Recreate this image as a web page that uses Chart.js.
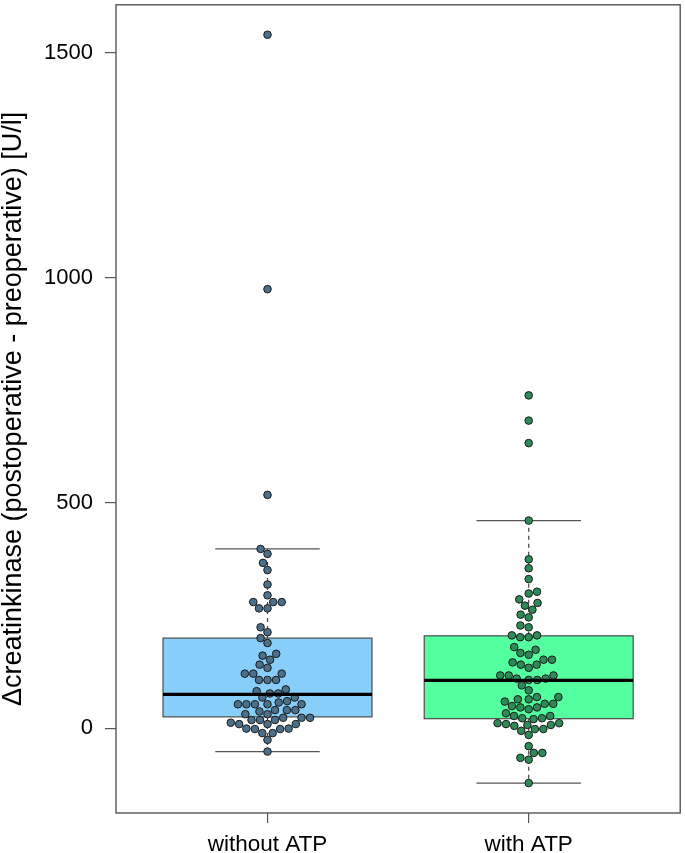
<!DOCTYPE html>
<html>
<head>
<meta charset="utf-8">
<script src="https://cdn.jsdelivr.net/npm/chart.js@4.4.1/dist/chart.umd.min.js"></script>
<style>
  html, body { margin: 0; padding: 0; background: #ffffff; }
  #wrap { width: 685px; height: 853px; }
</style>
</head>
<body>
<div id="wrap"><canvas id="c" width="685" height="853"></canvas></div>
<script>
// ---- data ----
const categories = ['without ATP', 'with ATP'];
const withoutATP = [1540, 975, 518, 398, 387, 367, 351, 319, 295, 280, 280, 280, 266, 266, 224, 213, 200, 189,
  165, 161, 152, 141, 134, 121, 121, 121, 107, 107, 107, 86, 82, 77, 77, 68, 68, 60, 57, 53, 53, 53, 53, 53,
  40, 40, 40, 37, 31, 31, 23, 23, 23, 18, 18, 18, 12, 9, 9, 9, -1, -1, -2, -2, -11, -11, -26, -52];
const withATP = [739, 683, 633, 461, 375, 355, 331, 303, 299, 286, 278, 272, 263, 252, 246, 228, 224,
  206, 206, 202, 202, 180, 174, 167, 163, 152, 152, 146, 141, 141, 134, 117, 117, 117, 110, 110, 107, 107,
  95, 84, 69, 69, 64, 64, 59, 54, 54, 49, 46, 46, 42, 33, 27, 27, 22, 22, 20, 11, 11, 9, 7, 7, 5,
  -2, -2, -6, -15, -40, -55, -55, -66, -70, -122];
// box statistics per category
const q1 = [25, 21];
const median = [75, 106];
const q3 = [200, 205];
const whiskerLow = [-52, -122];
const whiskerHigh = [398, 461];
const yTicks = [0, 500, 1000, 1500];

// ---- styling ----
const boxFill = ['#87CEFA', '#54FF9F'];
const pointFill = ['#4A708B', '#2E8B57'];
const frameColor = '#555555';
const FONT = "'Liberation Sans', Arial, sans-serif";

const allVals = withoutATP.concat(withATP, whiskerLow, whiskerHigh);
const dmin = Math.min(...allVals), dmax = Math.max(...allVals);
const ext = (dmax - dmin) * 0.04;

const groups = [withoutATP, withATP];

const boxPlugin = {
  id: 'boxes',
  beforeDatasetsDraw(chart) {
    const ctx = chart.ctx, xs = chart.scales.x, ys = chart.scales.y;
    ctx.save();
    for (let i = 0; i < categories.length; i++) {
      const c = i + 1;
      const xl = xs.getPixelForValue(c - 0.4), xr = xs.getPixelForValue(c + 0.4);
      const cl = xs.getPixelForValue(c - 0.2), cr = xs.getPixelForValue(c + 0.2);
      const xc = xs.getPixelForValue(c);
      const pq1 = ys.getPixelForValue(q1[i]), pq3 = ys.getPixelForValue(q3[i]);
      const plo = ys.getPixelForValue(whiskerLow[i]), phi = ys.getPixelForValue(whiskerHigh[i]);
      // dashed whiskers
      ctx.strokeStyle = '#444444';
      ctx.lineWidth = 1.2;
      ctx.setLineDash([4, 4]);
      ctx.beginPath();
      ctx.moveTo(xc, pq3); ctx.lineTo(xc, phi);
      ctx.moveTo(xc, pq1); ctx.lineTo(xc, plo);
      ctx.stroke();
      ctx.setLineDash([]);
      // caps
      ctx.strokeStyle = '#555555';
      ctx.beginPath();
      ctx.moveTo(cl, phi); ctx.lineTo(cr, phi);
      ctx.moveTo(cl, plo); ctx.lineTo(cr, plo);
      ctx.stroke();
      // box
      ctx.fillStyle = boxFill[i];
      ctx.fillRect(xl, pq3, xr - xl, pq1 - pq3);
      ctx.strokeStyle = '#4d4d4d';
      ctx.lineWidth = 1.2;
      ctx.strokeRect(xl, pq3, xr - xl, pq1 - pq3);
    }
    ctx.restore();
  },
  afterDatasetsDraw(chart) {
    const ctx = chart.ctx, xs = chart.scales.x, ys = chart.scales.y;
    ctx.save();
    for (let i = 0; i < categories.length; i++) {
      const c = i + 1;
      const xl = xs.getPixelForValue(c - 0.4), xr = xs.getPixelForValue(c + 0.4);
      const pm = ys.getPixelForValue(median[i]);
      ctx.strokeStyle = '#000000';
      ctx.lineWidth = 3.2;
      ctx.beginPath();
      ctx.moveTo(xl, pm); ctx.lineTo(xr, pm);
      ctx.stroke();
    }
    // frame
    const a = chart.chartArea;
    ctx.strokeStyle = frameColor;
    ctx.lineWidth = 1.4;
    ctx.strokeRect(a.left, a.top, a.right - a.left, a.bottom - a.top);
    ctx.restore();
  }
};

const datasets = groups.map((vals, i) => ({
  label: categories[i],
  data: vals.map(v => ({ x: i + 1, y: v })),
  backgroundColor: pointFill[i],
  borderColor: '#1a1a1a',
  borderWidth: 1,
  pointRadius: 3.8,
  pointHoverRadius: 3.8
}));

const chart = new Chart(document.getElementById('c'), {
  type: 'scatter',
  data: { datasets },
  options: {
    responsive: false,
    animation: false,
    layout: { padding: { top: 1, right: 0, left: 0, bottom: 0 } },
    plugins: { legend: { display: false }, tooltip: { enabled: false } },
    scales: {
      x: {
        type: 'linear',
        min: 1 - 0.5 - 0.08,
        max: categories.length + 0.5 + 0.08,
        afterBuildTicks(s) { s.ticks = categories.map((c, i) => ({ value: i + 1 })); },
        afterFit(s) { s.height = 40; s.paddingLeft = 0; s.paddingRight = 0; },
        ticks: {
          autoSkip: false, maxRotation: 0, padding: 8, color: '#000',
          font: { family: FONT, size: 22.5 },
          callback: v => categories[Math.round(v) - 1]
        },
        grid: { drawOnChartArea: false, drawTicks: true, tickLength: 10, color: frameColor, lineWidth: 1.2 },
        border: { display: false }
      },
      y: {
        type: 'linear',
        min: dmin - ext,
        max: dmax + ext,
        afterBuildTicks(s) { s.ticks = yTicks.map(v => ({ value: v })); },
        afterFit(s) { s.width = 116; s.paddingTop = 0; s.paddingBottom = 0; },
        ticks: { padding: 12, color: '#000', font: { family: FONT, size: 22 }, callback: v => String(v) },
        grid: { drawOnChartArea: false, drawTicks: true, tickLength: 11, color: frameColor, lineWidth: 1.2 },
        border: { display: false },
        title: {
          display: true,
          text: '\u0394creatinkinase (postoperative - preoperative) [U/l]',
          color: '#000',
          font: { family: FONT, size: 27, lineHeight: 1.0 },
          padding: { top: 0, bottom: 0 }
        }
      }
    }
  },
  plugins: [boxPlugin]
});

// beeswarm layout in pixel space, computed from the scales
function swarm(ypx, d) {
  const order = ypx.map((y, i) => i).sort((a, b) => ypx[b] - ypx[a]);
  const placed = [];
  const out = new Array(ypx.length);
  for (const i of order) {
    const y = ypx[i];
    const near = placed.filter(p => Math.abs(p.y - y) < d);
    const cands = [0];
    for (const p of near) {
      const dx = Math.sqrt(d * d - (p.y - y) * (p.y - y));
      cands.push(p.x + dx, p.x - dx);
    }
    cands.sort((a, b) => Math.abs(a) - Math.abs(b) || a - b);
    let x = 0;
    for (const c of cands) {
      if (near.every(p => (p.x - c) * (p.x - c) + (p.y - y) * (p.y - y) >= d * d - 1e-6)) { x = c; break; }
    }
    out[i] = x;
    placed.push({ x, y });
  }
  return out;
}

const xs = chart.scales.x, ys = chart.scales.y;
const pxPerUnit = xs.getPixelForValue(2) - xs.getPixelForValue(1);
groups.forEach((vals, i) => {
  const ypx = vals.map(v => ys.getPixelForValue(v));
  const off = swarm(ypx, 8.5);
  chart.data.datasets[i].data = vals.map((v, k) => ({ x: i + 1 + off[k] / pxPerUnit, y: v }));
});
chart.update('none');
</script>
</body>
</html>
